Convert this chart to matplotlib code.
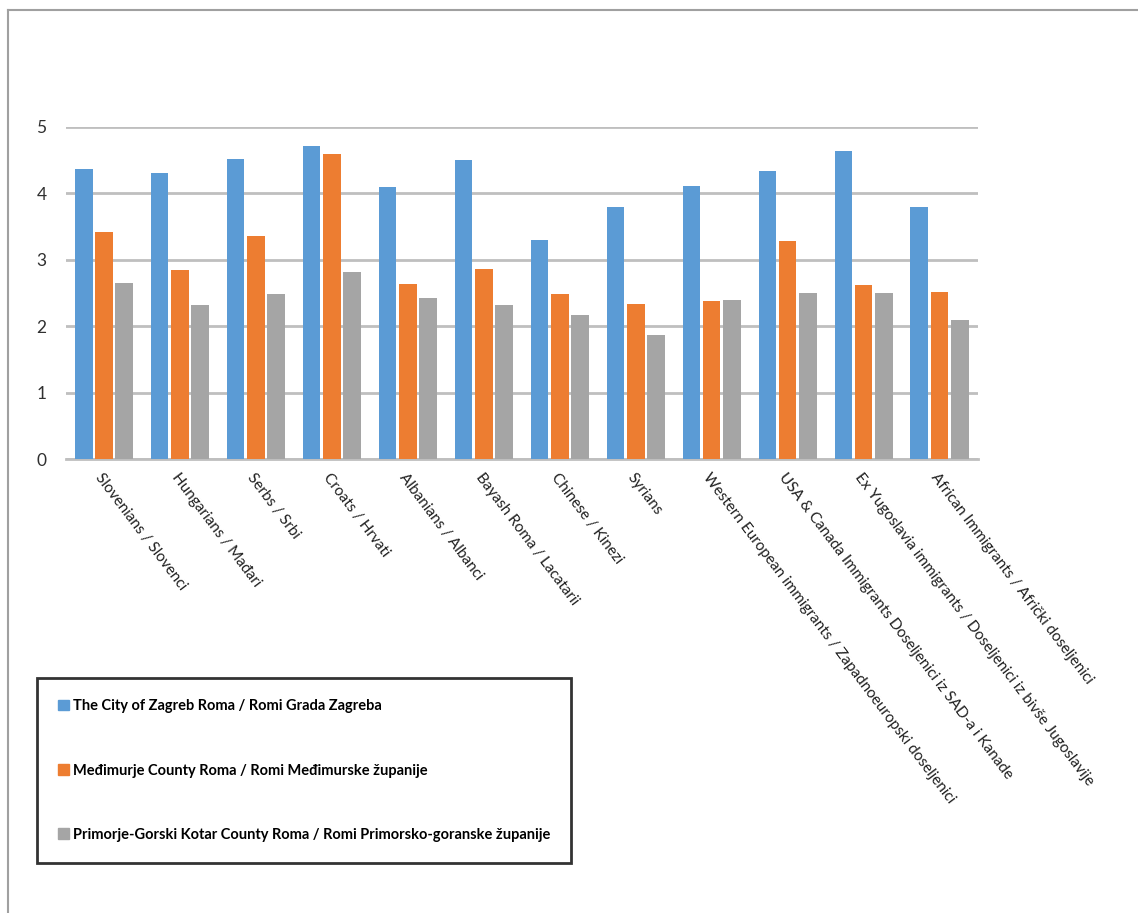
import numpy as np
import matplotlib.pyplot as plt
from matplotlib.lines import Line2D

categories = ["Slovenians / Slovenci", "Hungarians / Mađari", "Serbs / Srbi", "Croats / Hrvati",
              "Albanians / Albanci", "Bayash Roma / Lacatarii", "Chinese / Kinezi", "Syrians",
              "Western European immigrants / Zapadnoeuropski doseljenici",
              "USA & Canada Immigrants Doseljenici iz SAD-a i Kanade",
              "Ex Yugoslavia immigrants / Doseljenici iz bivše Jugoslavije",
              "African Immigrants / Afrički doseljenici"]

zagreb = [4.37, 4.30, 4.52, 4.71, 4.09, 4.50, 3.30, 3.79, 4.11, 4.34, 4.63, 3.79]
medjimurje = [3.42, 2.84, 3.36, 4.59, 2.64, 2.86, 2.48, 2.33, 2.38, 3.28, 2.62, 2.51]
primorje = [2.65, 2.32, 2.48, 2.81, 2.43, 2.32, 2.17, 1.87, 2.40, 2.50, 2.50, 2.09]

series_names = ["The City of Zagreb Roma / Romi Grada Zagreba",
                "Međimurje County Roma / Romi Međimurske županije",
                "Primorje-Gorski Kotar County Roma / Romi Primorsko-goranske županije"]
colors = ["#5B9BD5", "#ED7D31", "#A5A5A5"]

plt.rcParams['font.family'] = ['Lato', 'DejaVu Sans']

fig = plt.figure(figsize=(11.38, 9.13), dpi=100)
ax = fig.add_axes([0.058, 0.497, 0.801, 0.364])

x = np.arange(len(categories))
step = 0.267
width = 0.232
for k, vals in enumerate([zagreb, medjimurje, primorje]):
    ax.bar(x + (k - 1) * step, vals, width, color=colors[k], zorder=3)

ax.set_xlim(-0.5, len(categories) - 0.5)
ax.set_ylim(0, 5)
ax.set_yticks(range(6))
ax.yaxis.grid(True, color="#BFBFBF", linewidth=2, zorder=0)
for s in ["top", "right", "left"]:
    ax.spines[s].set_visible(False)
ax.spines["bottom"].set_color("#BFBFBF")
ax.spines["bottom"].set_linewidth(2)
ax.tick_params(axis="y", length=0, labelsize=12.5, pad=14, labelcolor="#303030")
ax.tick_params(axis="x", length=0, pad=8)
ax.set_xticks(x)
ax.set_xticklabels(categories, rotation=-53, ha="left", va="top", rotation_mode="anchor",
                   fontsize=11, color="#202020")

handles = [plt.Rectangle((0, 0), 1, 1, color=c) for c in colors]
leg = fig.legend(handles, series_names, loc="lower left", bbox_to_anchor=(0.0325, 0.0548),
                 borderaxespad=0, frameon=True, fancybox=False,
                 handlelength=0.75, handleheight=0.75,
                 handletextpad=0.25, labelspacing=3.45, borderpad=1.45,
                 prop={"weight": "bold", "size": 10.5})
leg.get_frame().set_edgecolor("black")
leg.get_frame().set_linewidth(2)

# light border on the top and left
fig.add_artist(Line2D([8 / 1138, 8 / 1138], [0, 1 - 10 / 913], transform=fig.transFigure,
                      color="#A0A0A0", linewidth=1.5))
fig.add_artist(Line2D([8 / 1138, 1], [1 - 10 / 913, 1 - 10 / 913], transform=fig.transFigure,
                      color="#A0A0A0", linewidth=1.5))

plt.savefig("out.png", dpi=100)
